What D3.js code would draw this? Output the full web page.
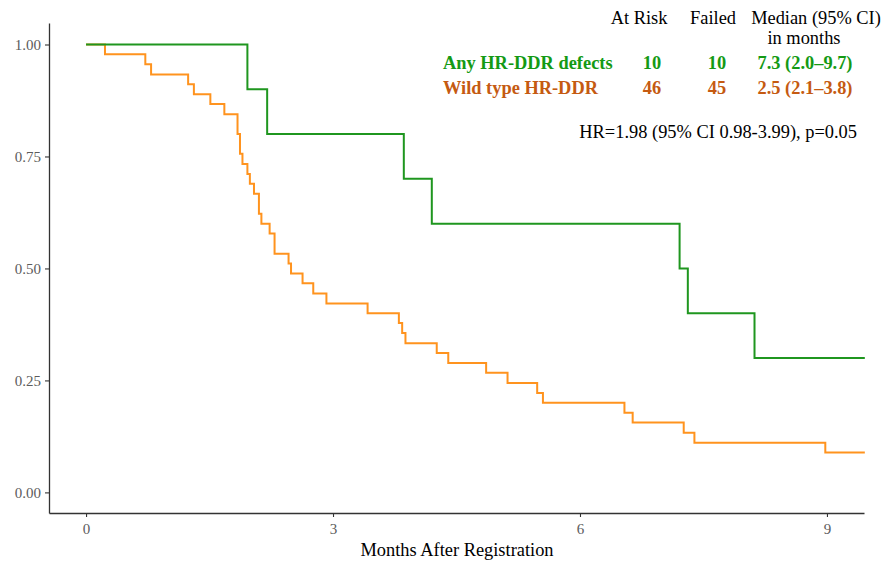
<!DOCTYPE html>
<html>
<head>
<meta charset="utf-8">
<script src="https://cdn.jsdelivr.net/npm/d3@7"></script>
<style>
  body { margin: 0; background: #fff; }
  svg text { font-family: "Liberation Serif", "Times New Roman", serif; }
</style>
</head>
<body>
<div id="chart"></div>
<script>
// step times (months) and survival after each step
var hrTimes = [0, 1.96, 2.20, 3.86, 4.20, 7.21, 7.31, 8.12];
var hrSurv  = [1, 0.90, 0.80, 0.70, 0.60, 0.50, 0.40, 0.30];

var wtTimes = [0, 0.23, 0.72, 0.79, 1.24, 1.31, 1.51, 1.68, 1.84, 1.87, 1.90, 1.96, 1.99,
               2.04, 2.10, 2.13, 2.23, 2.29, 2.46, 2.49, 2.63, 2.76, 2.92, 3.42, 3.80,
               3.84, 3.88, 4.26, 4.40, 4.86, 5.12, 5.48, 5.55, 6.54, 6.64, 7.26, 7.39, 8.98];
var wtSurv  = [1, 0.978, 0.956, 0.933, 0.911, 0.889, 0.867, 0.844, 0.800, 0.756, 0.733, 0.711, 0.689,
               0.667, 0.622, 0.600, 0.578, 0.533, 0.511, 0.489, 0.467, 0.444, 0.422, 0.400, 0.378,
               0.356, 0.333, 0.311, 0.289, 0.267, 0.244, 0.222, 0.200, 0.178, 0.156, 0.133, 0.111, 0.089];

var endTime = 9.46;

var xTicks = [0, 3, 6, 9];
var yTicks = [0, 0.25, 0.5, 0.75, 1];

var headers = ["At Risk", "Failed", "Median (95% CI)"];
var groups  = ["Any HR-DDR defects", "Wild type HR-DDR"];
var atRisk  = [10, 46];
var failed  = [10, 45];
var medians = ["7.3 (2.0\u20139.7)", "2.5 (2.1\u20133.8)"];
var hrText  = "HR=1.98 (95% CI 0.98-3.99), p=0.05";

var lineColors = ["#1f961f", "#ff931e"];
var textColors = ["#149a14", "#c55a11"];

var width = 891, height = 566;
var plotL = 49, plotR = 864, plotT = 23, plotB = 513;

var svg = d3.select("#chart")
    .append("svg")
    .attr("width", width)
    .attr("height", height);

var x = d3.scaleLinear().domain([-0.45, 9.45]).range([plotL, plotR]);
var y = d3.scaleLinear().domain([-0.046, 1.048]).range([plotB, plotT]);

// axes
var xAxis = svg.append("g")
    .attr("transform", "translate(0," + plotB + ")")
    .call(d3.axisBottom(x).tickValues(xTicks).tickFormat(d3.format("d")).tickSize(4).tickSizeOuter(0));
var yAxis = svg.append("g")
    .attr("transform", "translate(" + plotL + ",0)")
    .call(d3.axisLeft(y).tickValues(yTicks).tickFormat(d3.format(".2f")).tickSize(4).tickSizeOuter(0));

[xAxis, yAxis].forEach(function(ax){
    ax.select(".domain").attr("stroke", "#333").attr("stroke-width", 1.3);
    ax.selectAll(".tick line").attr("stroke", "#333").attr("stroke-width", 1.1);
    ax.selectAll(".tick text")
        .attr("fill", "#5c5c5c")
        .style("font-size", "15px")
        .style("font-family", "'Liberation Serif', serif");
});
xAxis.selectAll(".tick text").attr("dy", "0.95em");
yAxis.selectAll(".tick text").attr("x", -8);

svg.append("text")
    .attr("x", 457)
    .attr("y", 556)
    .attr("text-anchor", "middle")
    .style("font-size", "18.4px")
    .text("Months After Registration");

// step curves
function stepData(times, surv){
    var pts = times.map(function(t, i){ return [t, surv[i]]; });
    pts.push([endTime, surv[surv.length - 1]]);
    return pts;
}

var line = d3.line()
    .x(function(d){ return x(d[0]); })
    .y(function(d){ return y(d[1]); })
    .curve(d3.curveStepAfter);

svg.append("path")
    .datum(stepData(wtTimes, wtSurv))
    .attr("fill", "none")
    .attr("stroke", lineColors[1])
    .attr("stroke-width", 2)
    .attr("d", line);

svg.append("path")
    .datum(stepData(hrTimes, hrSurv))
    .attr("fill", "none")
    .attr("stroke", lineColors[0])
    .attr("stroke-width", 2)
    .attr("d", line);

// legend table
var colX = [639, 713, 816];
svg.selectAll(".hdr")
    .data(headers)
    .enter()
    .append("text")
    .attr("x", function(d, i){ return colX[i]; })
    .attr("y", 24)
    .attr("text-anchor", "middle")
    .style("font-size", "18.4px")
    .text(function(d){ return d; });

svg.append("text")
    .attr("x", 804)
    .attr("y", 44)
    .attr("text-anchor", "middle")
    .style("font-size", "18.4px")
    .text("in months");

var rowY = [69, 94];
groups.forEach(function(g, i){
    var row = svg.append("g")
        .attr("fill", textColors[i])
        .style("font-size", "18.4px")
        .style("font-weight", "bold");
    row.append("text").attr("x", 443).attr("y", rowY[i]).text(g);
    row.append("text").attr("x", 652).attr("y", rowY[i]).attr("text-anchor", "middle").text(atRisk[i]);
    row.append("text").attr("x", 717).attr("y", rowY[i]).attr("text-anchor", "middle").text(failed[i]);
    row.append("text").attr("x", 805).attr("y", rowY[i]).attr("text-anchor", "middle").text(medians[i]);
});

svg.append("text")
    .attr("x", 857)
    .attr("y", 138)
    .attr("text-anchor", "end")
    .style("font-size", "18.4px")
    .text(hrText);
</script>
</body>
</html>
